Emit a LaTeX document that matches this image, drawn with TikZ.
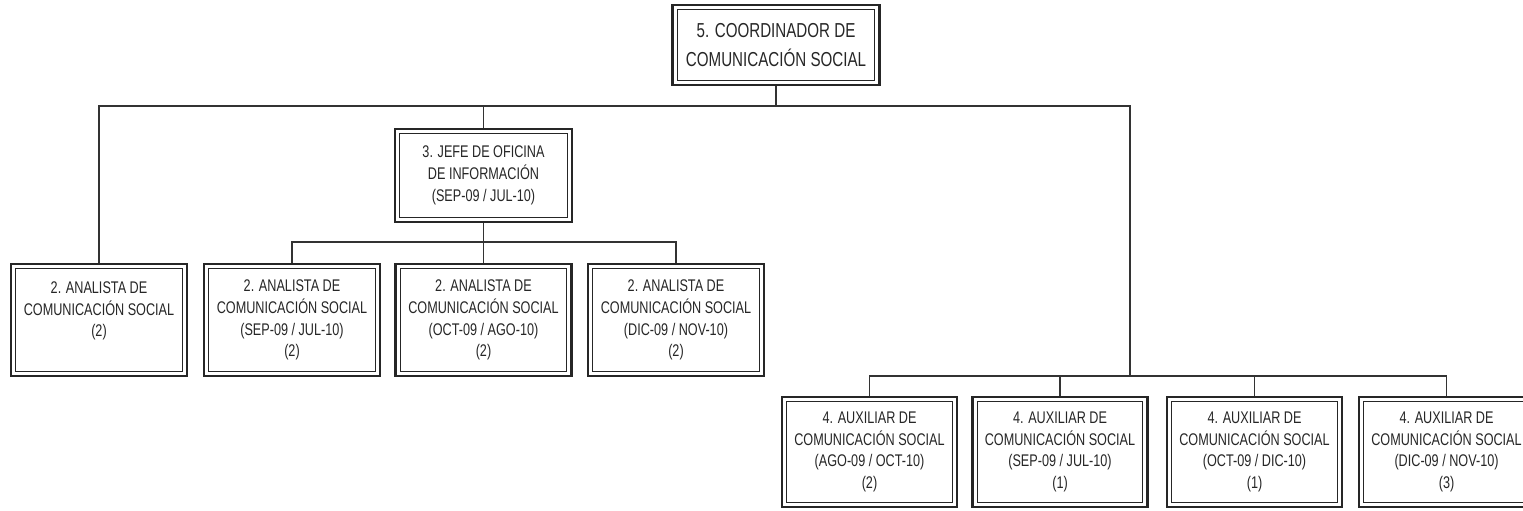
\documentclass[tikz,border=0pt]{standalone}
\usepackage{fontspec}
\setmainfont{Liberation Sans}[FakeStretch=0.75]
\usepackage{tikz}
\usetikzlibrary{positioning}
\usetikzlibrary{calc}

\tikzset{
  cargo/.style={draw=black!85,line width=1.6pt,align=center,inner sep=2pt,
    text=black!85,font=\fontsize{9.6}{12.4}\selectfont,
    path picture={\draw[line width=0.6pt,black!85]
      ([shift={(2.6pt,-2.6pt)}]path picture bounding box.north west) rectangle
      ([shift={(-2.6pt,2.6pt)}]path picture bounding box.south east);}},
}

\begin{document}
\begin{tikzpicture}[x=0.02cm,y=-0.02cm]
    \useasboundingbox (0,0) rectangle (1523,510);
    \clip (0,0) rectangle (1523,510);
    \begin{scope}[every node/.style={cargo}]
      \node (coord)[minimum width=4.14cm,minimum height=1.6cm,
        font=\fontsize{11.5}{16}\selectfont] at (776,45)
        {5. COORDINADOR DE\\COMUNICACIÓN SOCIAL};
      \node (jefe)[minimum width=3.54cm,minimum height=1.86cm] at (483.5,175.5)
        {3. JEFE DE OFICINA\\DE INFORMACIÓN\\(SEP-09 / JUL-10)};
    \end{scope}
    \begin{scope}[every node/.style={cargo,minimum width=3.52cm,minimum height=2.24cm}]
      \node (an1) at (99,320) {2. ANALISTA DE\\COMUNICACIÓN SOCIAL\\(2)\\~};
      \node (an2) at (292,320) {2. ANALISTA DE\\COMUNICACIÓN SOCIAL\\(SEP-09 / JUL-10)\\(2)};
      \node (an3) at (483.5,320) {2. ANALISTA DE\\COMUNICACIÓN SOCIAL\\(OCT-09 / AGO-10)\\(2)};
      \node (an4) at (676,320) {2. ANALISTA DE\\COMUNICACIÓN SOCIAL\\(DIC-09 / NOV-10)\\(2)};
    \end{scope}
    \begin{scope}[every node/.style={cargo,minimum width=3.5cm,minimum height=2.2cm}]
      \node (aux1) at (869.5,452) {4. AUXILIAR DE\\COMUNICACIÓN SOCIAL\\(AGO-09 / OCT-10)\\(2)};
      \node (aux2) at (1060,452) {4. AUXILIAR DE\\COMUNICACIÓN SOCIAL\\(SEP-09 / JUL-10)\\(1)};
      \node (aux3) at (1254.5,452) {4. AUXILIAR DE\\COMUNICACIÓN SOCIAL\\(OCT-09 / DIC-10)\\(1)};
      \node (aux4) at (1446.5,452) {4. AUXILIAR DE\\COMUNICACIÓN SOCIAL\\(DIC-09 / NOV-10)\\(3)};
    \end{scope}
    % bus points
    \coordinate (topbus) at (776,106);
    \coordinate (jefebus) at (483.5,242);
    \coordinate (auxbus) at (1130,376);
    \begin{scope}[every path/.style={draw=black!80,line width=0.7pt}]
      \path (coord) edge (topbus);
      \draw (an1) |- (topbus) -| (auxbus);
      \path (jefe) edge (jefe |- topbus);
      \path (jefe) edge (jefebus);
      \draw (an2) |- (jefebus) -| (an4);
      \path (an3) edge (jefebus);
      \draw (aux1) |- (auxbus) -| (aux4);
      \path (aux2) edge (aux2 |- auxbus);
      \path (aux3) edge (aux3 |- auxbus);
    \end{scope}
\end{tikzpicture}
\end{document}
